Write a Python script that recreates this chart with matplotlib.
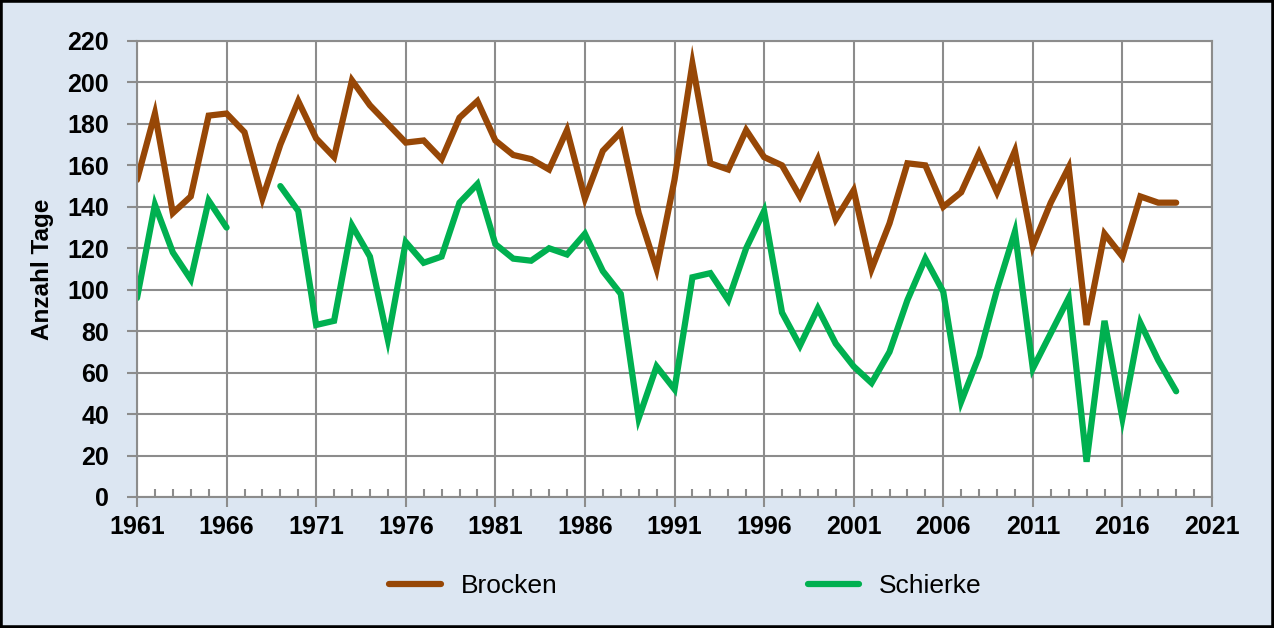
import numpy as np
import matplotlib.pyplot as plt
from matplotlib.ticker import MultipleLocator
from matplotlib.patches import Rectangle

# Jahre und Anzahl Tage
years = np.arange(1961, 2020)
brocken = [153, 185, 137, 145, 184, 185, 176, 144, 170, 191,
           173, 164, 201, 189, 180, 171, 172, 163, 183, 191,
           172, 165, 163, 158, 177, 144, 167, 176, 137, 110,
           153, 209, 161, 158, 177, 164, 160, 145, 163, 134,
           148, 110, 132, 161, 160, 140, 147, 166, 147, 167,
           121, 142, 159, 83, 127, 116, 145, 142, 142]
schierke = [96, 141, 118, 105, 143, 130, np.nan, np.nan, 150, 138,
            83, 85, 131, 116, 76, 123, 113, 116, 142, 151,
            122, 115, 114, 120, 117, 127, 109, 98, 38, 63,
            52, 106, 108, 95, 120, 138, 89, 73, 91, 74,
            63, 55, 70, 95, 115, 99, 46, 68, 100, 128,
            62, 79, 96, 17, 85, 38, 84, 66, 51]
xticks = np.arange(1961, 2022, 5)

bg = '#dce6f2'
grid_col = '#8c8c8c'
plt.rcParams['font.family'] = ['Liberation Sans', 'DejaVu Sans']

fig = plt.figure(figsize=(12.74, 6.28), dpi=100, facecolor=bg)
ax = fig.add_axes([137/1274, 1 - 497/628, (1212-137)/1274, (497-41)/628])
ax.set_facecolor('white')

ax.plot(years, brocken, color='#974706', lw=4.5, label='Brocken', solid_capstyle='round', solid_joinstyle='miter')
ax.plot(years, schierke, color='#00b050', lw=4.5, label='Schierke', solid_capstyle='round', solid_joinstyle='miter')

ax.set_xlim(1961, 2021)
ax.set_ylim(0, 220)
ax.set_xticks(xticks)
ax.xaxis.set_minor_locator(MultipleLocator(1))
ax.yaxis.set_major_locator(MultipleLocator(20))
ax.grid(True, which='major', color=grid_col, lw=1.5)
ax.set_axisbelow(True)
for s in ax.spines.values():
    s.set_color(grid_col)
    s.set_linewidth(1.5)
ax.tick_params(which='major', direction='out', length=7, width=1.5, color=grid_col,
               labelsize=18)
ax.tick_params(axis='y', pad=13)
ax.tick_params(axis='x', pad=6)
ax.tick_params(which='minor', axis='x', direction='in', length=6, width=1.5, color=grid_col)
for lab in ax.get_xticklabels() + ax.get_yticklabels():
    lab.set_fontweight('bold')
ax.set_ylabel('Anzahl Tage', fontsize=17.5, fontweight='bold', labelpad=10)

fig.legend(loc='center', bbox_to_anchor=(0.538, 0.067), ncol=2, frameon=False,
           fontsize=19, handlelength=1.95, handletextpad=0.75, columnspacing=9.5)

# schwarzer Rahmen um die Grafik
fig.patches.append(Rectangle((0, 0), 1, 1, transform=fig.transFigure, fill=False,
                             edgecolor='black', lw=4))

fig.savefig('out.png', dpi=100, facecolor=bg)
